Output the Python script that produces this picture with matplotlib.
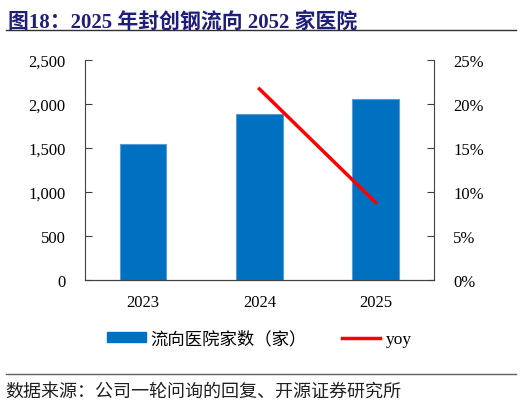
import matplotlib
matplotlib.use("Agg")
import matplotlib.pyplot as plt
from matplotlib.lines import Line2D
from matplotlib.ticker import FuncFormatter

plt.rcParams['font.family'] = ['Liberation Serif', 'Noto Sans CJK SC']

years = ['2023', '2024', '2025']
hospitals = [1550, 1886, 2052]
yoy_years = [1, 2]
yoy = [0.217, 0.088]

fig = plt.figure(figsize=(5.22, 4.06), dpi=100)
ax = fig.add_axes([0.163, 0.308, 0.668, 0.542])

x = range(len(years))
ax.bar(x, hospitals, width=0.4, color='#0070C0', edgecolor='#5B9BD5', linewidth=0.8,
       label='流向医院家数（家）', zorder=2)
ax.set_xlim(-0.5, 2.5)
ax.set_ylim(0, 2500)
ax.set_yticks([0, 500, 1000, 1500, 2000, 2500])
ax.yaxis.set_major_formatter(FuncFormatter(lambda v, p: f'{int(v):,}'))
ax.set_xticks(list(x))
ax.set_xticklabels(years)

ax2 = ax.twinx()
ax2.plot(yoy_years, yoy, color='#FF0000', linewidth=2.5, label='yoy', zorder=3)
ax2.set_ylim(0, 0.25)
ax2.set_yticks([0, 0.05, 0.10, 0.15, 0.20, 0.25])
ax2.yaxis.set_major_formatter(FuncFormatter(lambda v, p: f'{v*100:.0f}%'))

for a in (ax, ax2):
    a.spines['top'].set_visible(False)
    for s in ('left', 'right', 'bottom'):
        a.spines[s].set_color('#404040')
        a.spines[s].set_linewidth(0.8)
    a.tick_params(axis='y', direction='in', length=5, width=0.8, color='#404040',
                  labelsize=12, pad=14)
    a.tick_params(axis='x', length=0, labelsize=12, pad=10)
ax2.spines['left'].set_visible(False)
ax.spines['right'].set_visible(False)

handles = [plt.Rectangle((0, 0), 1, 1, color='#0070C0'),
           Line2D([0], [0], color='#FF0000', linewidth=2.5)]
fig.legend(handles, ['流向医院家数（家）', 'yoy'], loc='center', ncol=2,
           bbox_to_anchor=(0.497, 0.163), frameon=False, fontsize=12.5,
           handlelength=2.2, handleheight=0.5, columnspacing=2.0, handletextpad=0.3)

fig.text(0.015, 0.945, '图18：2025 年封创钢流向 2052 家医院', fontsize=15,
         fontweight='bold', color='#1F1F7A', ha='left', va='center')
fig.add_artist(Line2D([0.011, 0.989], [0.924, 0.924], color='#303030', linewidth=1.0))
fig.add_artist(Line2D([0.011, 0.989], [0.076, 0.076], color='#606060', linewidth=1.0))
fig.text(0.011, 0.035, '数据来源：公司一轮问询的回复、开源证券研究所', fontsize=13,
         color='#202020', ha='left', va='center')

fig.savefig('out.png', dpi=100)
